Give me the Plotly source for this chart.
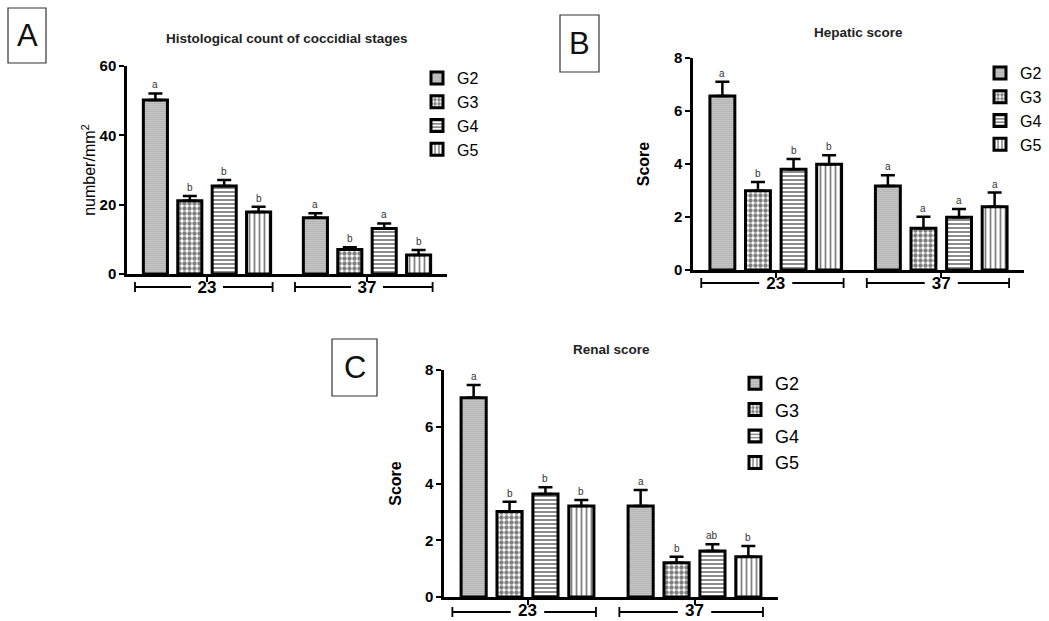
import plotly.graph_objects as go

W, H = 1049, 621

groups = ["23", "37"]
series = ["G2", "G3", "G4", "G5"]

# Panel A: histological count (number/mm2), per series [23, 37]
a_means = [[50.2, 16.2], [21.1, 7.1], [25.4, 13.1], [17.9, 5.5]]
a_tops = [[52.1, 17.5], [22.5, 7.7], [27.1, 14.6], [19.4, 6.9]]
a_letters = [["a", "a"], ["b", "b"], ["b", "a"], ["b", "b"]]

# Panel B: hepatic score
b_means = [[6.57, 3.17], [2.99, 1.58], [3.80, 1.99], [3.99, 2.39]]
b_tops = [[7.10, 3.58], [3.32, 2.01], [4.19, 2.30], [4.33, 2.92]]
b_letters = [["a", "a"], ["b", "a"], ["b", "a"], ["b", "a"]]

# Panel C: renal score
c_means = [[7.02, 3.21], [3.01, 1.21], [3.63, 1.62], [3.21, 1.42]]
c_tops = [[7.47, 3.77], [3.36, 1.42], [3.87, 1.86], [3.42, 1.80]]
c_letters = [["a", "a"], ["b", "b"], ["b", "ab"], ["b", "b"]]

patterns = [
    dict(shape=".", size=2, solidity=0.6),
    dict(shape=".", size=5, solidity=0.6),
    dict(shape="-", size=4, solidity=0.45),
    dict(shape="|", size=5, solidity=0.35),
]

FONT = "Liberation Sans, Arial, sans-serif"

panels = [
    dict(key="", means=a_means, tops=a_tops, letters=a_letters, px=(127, 447), py=(66, 274),
         yr=[0, 60], dt=20, ytitle="number/mm<sup>2</sup>", ytitle_bold=False, standoff=0,
         title="Histological count of coccidial stages", title_y=38,
         legend_xy=(417, 61), legend_font=16, bracket_y=287, box=(8, 46, 8, 63), label="A"),
    dict(key="2", means=b_means, tops=b_tops, letters=b_letters, px=(693, 1024), py=(58, 270),
         yr=[0, 8], dt=2, ytitle="Score", ytitle_bold=True, standoff=21,
         title="Hepatic score", title_y=32,
         legend_xy=(980, 56), legend_font=16, bracket_y=283, box=(560, 599, 15, 72), label="B"),
    dict(key="3", means=c_means, tops=c_tops, letters=c_letters, px=(444, 778), py=(370, 597),
         yr=[0, 8], dt=2, ytitle="Score", ytitle_bold=True, standoff=20,
         title="Renal score", title_y=350,
         legend_xy=(735, 365), legend_font=18, bracket_y=612, box=(332, 377, 339, 396), label="C"),
]

BARGAP = 0.14
GROUPGAP = 0.3
slot = (1 - BARGAP) / len(series)

fig = go.Figure()
layout = dict(
    width=W, height=H, margin=dict(l=0, r=0, t=0, b=0, autoexpand=False),
    paper_bgcolor="white", plot_bgcolor="white",
    barmode="group", bargap=BARGAP, bargroupgap=GROUPGAP,
    font=dict(family=FONT, color="black"),
)
annotations = []
shapes = []

for p in panels:
    k = p["key"]
    xa, ya = "x" + k, "y" + k
    legname = "legend" + k
    for i, s in enumerate(series):
        means = p["means"][i]
        tops = p["tops"][i]
        fig.add_trace(go.Bar(
            x=groups, y=means, name=s, xaxis=xa, yaxis=ya, legend=legname,
            marker=dict(color="white", line=dict(color="black", width=3),
                        pattern=dict(fgcolor="black", bgcolor="white", **patterns[i])),
            error_y=dict(type="data", symmetric=False,
                         array=[t - m for t, m in zip(tops, means)],
                         arrayminus=[0] * len(means),
                         color="black", thickness=2.5, width=7),
        ))
        for gi, g in enumerate(groups):
            annotations.append(dict(
                x=gi + (i - 1.5) * slot, y=tops[gi], xref=xa, yref=ya,
                xanchor="center", yanchor="bottom", yshift=1,
                text=p["letters"][i][gi], showarrow=False,
                font=dict(size=10, color="#333", family=FONT)))
    x0, x1 = p["px"]
    ytop, ybot = p["py"]
    layout["xaxis" + k] = dict(
        domain=[x0 / W, x1 / W], anchor=ya, type="category", range=[-0.5, 1.5],
        showline=True, linecolor="black", linewidth=2.5, ticks="outside", ticklen=5,
        tickwidth=2, tickcolor="black", showgrid=False, zeroline=False, automargin=False,
        tickfont=dict(size=17, family=FONT, weight="bold"), ticklabelstandoff=-9)
    layout["yaxis" + k] = dict(
        domain=[1 - ybot / H, 1 - ytop / H], anchor=xa, range=p["yr"], dtick=p["dt"],
        showline=True, linecolor="black", linewidth=2.5, ticks="outside", ticklen=5,
        tickwidth=2, tickcolor="black", showgrid=False, zeroline=False, automargin=False,
        tickfont=dict(size=15, family=FONT, weight="bold"),
        title=dict(text=p["ytitle"], standoff=p["standoff"],
                   font=dict(size=16, family=FONT,
                             weight="bold" if p["ytitle_bold"] else "normal")))
    lx, ly = p["legend_xy"]
    layout[legname] = dict(
        x=lx / W, y=1 - ly / H, xanchor="left", yanchor="top", bgcolor="rgba(0,0,0,0)",
        font=dict(size=p["legend_font"], family=FONT), tracegroupgap=0, itemwidth=30)
    # titles
    annotations.append(dict(
        x=(x0 + x1) / 2 / W, y=1 - p["title_y"] / H, xref="paper", yref="paper",
        xanchor="center", yanchor="middle",
        text=p["title"], showarrow=False, font=dict(size=13.5, family=FONT, weight="bold", color="#222")))
    # panel letter box
    bx0, bx1, by0, by1 = p["box"]
    shapes.append(dict(type="rect", xref="paper", yref="paper",
                       x0=bx0 / W, x1=bx1 / W, y0=1 - by1 / H, y1=1 - by0 / H,
                       line=dict(color="#333", width=1.2), fillcolor="white"))
    annotations.append(dict(
        x=(bx0 + bx1) / 2 / W, y=1 - (by0 + by1) / 2 / H, xref="paper", yref="paper",
        xanchor="center", yanchor="middle",
        text=p["label"], showarrow=False, font=dict(size=31, family=FONT, color="#111")))
    # group brackets below the x axis
    by = 1 - p["bracket_y"] / H
    tick = 5 / H
    for gi, g in enumerate(groups):
        left, right = gi - 0.45, gi + 0.41
        for a, b in ((left, gi - 0.1), (gi + 0.1, right)):
            shapes.append(dict(type="line", xref=xa, yref="paper", x0=a, x1=b, y0=by, y1=by,
                               line=dict(color="black", width=1.8)))
        for e in (left, right):
            shapes.append(dict(type="line", xref=xa, yref="paper", x0=e, x1=e,
                               y0=by - tick, y1=by + tick, line=dict(color="black", width=1.8)))

layout["annotations"] = annotations
layout["shapes"] = shapes
fig.update_layout(**layout)
fig.write_html("out.html", config={"displayModeBar": False},
               post_script="document.body.style.margin='0';")
